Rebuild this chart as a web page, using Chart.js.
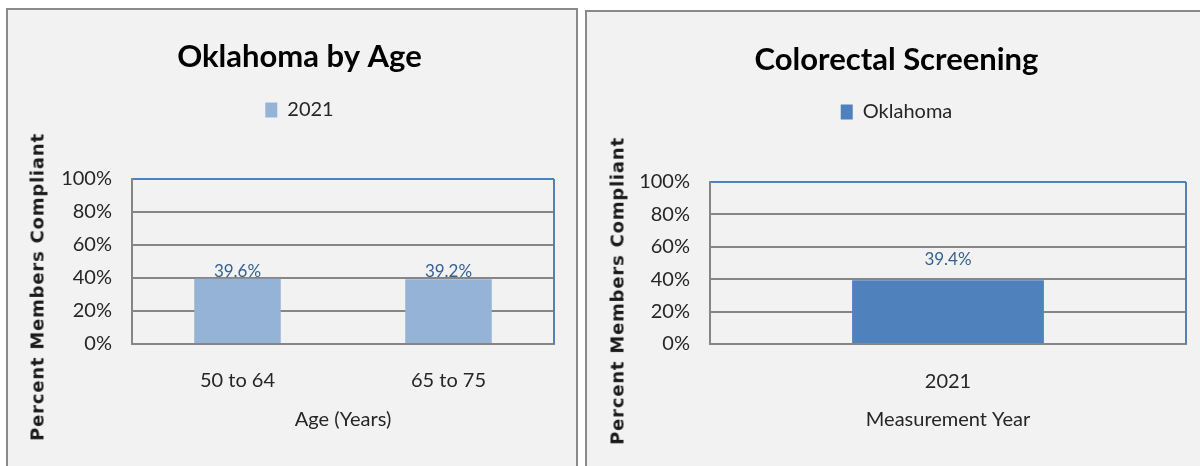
<!DOCTYPE html>
<html>
<head>
<meta charset="utf-8">
<script src="https://cdn.jsdelivr.net/npm/chart.js@4"></script>
<style>
  html, body { margin: 0; padding: 0; background: #fff; width: 1200px; height: 466px; overflow: hidden; position: relative; }
  .panel { position: absolute; box-sizing: border-box; border: 2px solid #8a8a8a; border-bottom: none; background: #f2f2f2; overflow: hidden; }
  .wrap { position: absolute; left: 0; top: 0; }
  .ytitle { position: absolute; transform: translate(-50%, -50%) rotate(-90deg); white-space: nowrap;
            font: bold 18px "DejaVu Sans"; letter-spacing: 0.8px; color: #1a1a1a; }
</style>
</head>
<body>
<div class="panel" style="left:6px; top:8px; width:572px; height:460px;">
  <div class="wrap" style="width:568px; height:456px;"><canvas id="ageChart"></canvas></div>
</div>
<div class="panel" style="left:585px; top:10px; width:640px; height:458px;">
  <div class="wrap" style="width:613px; height:454px;"><canvas id="yearChart"></canvas></div>
</div>
<div class="ytitle" style="left:37px; top:287px;">Percent Members Compliant</div>
<div class="ytitle" style="left:617px; top:291px;">Percent Members Compliant</div>

<script>
// Left chart: compliance by age group
const ageLabels = ["50 to 64", "65 to 75"];
const ageSeriesName = "2021";
const ageValues = [39.6, 39.2];

// Right chart: compliance by measurement year
const yearLabels = ["2021"];
const yearSeriesName = "Oklahoma";
const yearValues = [39.4];

const yTicks = [0, 20, 40, 60, 80, 100];

const FONT = 'Lato, "Liberation Sans", sans-serif';
const GRID = "#868686";
const BLUE_EDGE = "#4f81bd";
const TEXT = "#262626";

// value labels above bars + blue right edge of plot area
const barLabels = {
  id: "barLabels",
  afterDatasetsDraw(chart, args, opts) {
    const ctx = chart.ctx;
    const meta = chart.getDatasetMeta(0);
    const data = chart.data.datasets[0].data;
    ctx.save();
    ctx.font = "17px " + FONT;
    ctx.fillStyle = "#365f91";
    ctx.textAlign = "center";
    ctx.textBaseline = "alphabetic";
    meta.data.forEach((bar, i) => {
      ctx.fillText(data[i].toFixed(1) + "%", bar.x, bar.y - opts.offset);
    });
    ctx.restore();
  },
  afterDraw(chart) {
    const { ctx, chartArea } = chart;
    ctx.save();
    ctx.strokeStyle = BLUE_EDGE;
    ctx.lineWidth = 2;
    ctx.beginPath();
    ctx.moveTo(chartArea.right, chartArea.top);
    ctx.lineTo(chartArea.right, chartArea.bottom);
    ctx.stroke();
    ctx.restore();
  },
};

function makeChart(id, cfg) {
  const ctx = document.getElementById(id).getContext("2d");
  return new Chart(ctx, {
    type: "bar",
    data: {
      labels: cfg.labels,
      datasets: [
        {
          label: cfg.series,
          data: cfg.values,
          backgroundColor: cfg.color,
          borderWidth: 0,
          barPercentage: cfg.barPct,
          categoryPercentage: 1,
        },
      ],
    },
    options: {
      responsive: true,
      maintainAspectRatio: false,
      animation: false,
      layout: { padding: { left: cfg.padLeft, right: cfg.padRight, top: 0, bottom: cfg.padBottom } },
      plugins: {
        tooltip: { enabled: false },
        barLabels: { offset: cfg.labelOffset },
        title: {
          display: true,
          text: cfg.title,
          color: "#000",
          font: { family: FONT, size: 31, weight: "bold" },
          padding: { top: cfg.titleTop, bottom: 0 },
        },
        legend: {
          display: true,
          position: "top",
          labels: {
            boxWidth: 12,
            boxHeight: 15,
            padding: cfg.legendPad,
            color: TEXT,
            font: { family: FONT, size: 20 },
          },
        },
      },
      scales: {
        // empty spacer between legend and plot area
        xTop: {
          type: "category",
          position: "top",
          grid: { display: false },
          border: { display: false },
          ticks: { display: false },
          afterFit(s) { s.height = cfg.topGap; },
        },
        x: {
          grid: { display: false },
          border: { color: GRID, width: 2 },
          ticks: { color: TEXT, padding: cfg.xTickPad, font: { family: FONT, size: 20 } },
          title: {
            display: true,
            text: cfg.xTitle,
            color: TEXT,
            padding: 0,
            font: { family: FONT, size: 20 },
          },
          afterFit(s) { s.height = cfg.xHeight; },
        },
        y: {
          min: 0,
          max: 100,
          afterBuildTicks(s) { s.ticks = yTicks.map((v) => ({ value: v })); },
          grid: {
            drawTicks: false,
            lineWidth: 2,
            color: (c) => (c.tick && c.tick.value === 100 ? BLUE_EDGE : GRID),
          },
          border: { color: GRID, width: 2 },
          ticks: {
            color: TEXT,
            padding: 20,
            font: { family: FONT, size: 20 },
            callback: (v) => v + "%",
          },
          afterFit(s) { s.width = cfg.yWidth; },
        },
      },
    },
    plugins: [barLabels],
  });
}

makeChart("ageChart", {
  labels: ageLabels,
  series: ageSeriesName,
  values: ageValues,
  color: "#95b3d7",
  barPct: 0.41,
  title: "Oklahoma by Age",
  xTitle: "Age (Years)",
  padLeft: 37,
  padRight: 22,
  padBottom: 34,
  titleTop: 28.4,
  legendPad: 24.4,
  topGap: 49,
  xTickPad: 17,
  xHeight: 88,
  yWidth: 87,
  labelOffset: 2,
});

makeChart("yearChart", {
  labels: yearLabels,
  series: yearSeriesName,
  values: yearValues,
  color: "#4f81bd",
  barPct: 0.403,
  title: "Colorectal Screening",
  xTitle: "Measurement Year",
  padLeft: 20,
  padRight: 14,
  padBottom: 34,
  titleTop: 29.4,
  legendPad: 23.4,
  topGap: 50,
  xTickPad: 18,
  xHeight: 88,
  yWidth: 103,
  labelOffset: 15,
});
</script>
</body>
</html>
